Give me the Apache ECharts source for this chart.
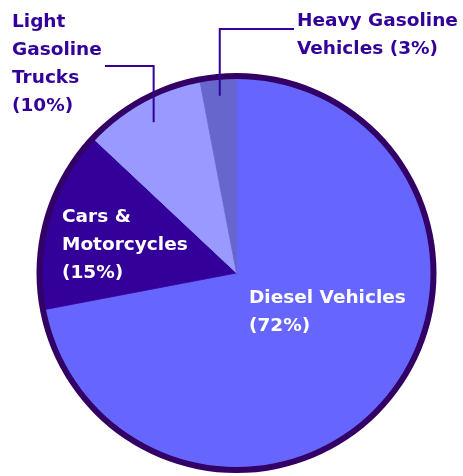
<!DOCTYPE html>
<html><head><meta charset="utf-8">
<script src="https://cdn.jsdelivr.net/npm/echarts@6/dist/echarts.min.js"></script>
<style>html,body{margin:0;padding:0;background:#fff}#c{width:463px;height:476px}</style>
</head><body><div id="c"></div>
<script>
// Data
const categories = ['Diesel Vehicles', 'Cars & Motorcycles', 'Light Gasoline Trucks', 'Heavy Gasoline Vehicles'];
const values = [72, 15, 10, 3];
const labelNames = ['Diesel Vehicles', 'Cars &\nMotorcycles', 'Light\nGasoline\nTrucks', 'Heavy Gasoline\nVehicles'];
const percentSep = ['\n', '\n', '\n', ' '];

// Style / layout
const colors = ['#6666ff', '#330099', '#9999ff', '#6666cc'];
const labelColors = ['#ffffff', '#ffffff', '#330099', '#330099'];
const labelPos = [[249, 284], [62, 203], [12, 8], [297, 7]];
// leader lines: [start radius, corner y, end x] (null = none)
const leader = [null, null, [172, 66, 105], [178, 29, 294]];
const CX = 236.5, CY = 273, R = 197;

const total = values.reduce((a, b) => a + b, 0);
const graphics = [];
let cum = 0;
values.forEach((v, i) => {
  const mid = (cum + v / 2) / total * 2 * Math.PI;
  cum += v;
  if (!leader[i]) return;
  const [r, ly, ex] = leader[i];
  const sx = CX + r * Math.sin(mid), sy = CY - r * Math.cos(mid);
  graphics.push({
    type: 'polyline', z: 100, silent: true,
    shape: {points: [[sx, sy], [sx, ly], [ex, ly]]},
    style: {stroke: '#330099', lineWidth: 2, fill: null}
  });
});

const chart = echarts.init(document.getElementById('c'));
chart.setOption({
  animation: false,
  graphic: graphics,
  series: [
    {
      type: 'pie', center: [CX, CY], radius: [0, R], startAngle: 90, clockwise: true,
      avoidLabelOverlap: false, z: 2,
      label: {
        show: true, position: 'inside',
        fontFamily: 'DejaVu Sans', fontWeight: 'bold', fontSize: 18.5, lineHeight: 28,
        formatter: p => labelNames[p.dataIndex] + percentSep[p.dataIndex] + '(' + p.value + '%)'
      },
      labelLine: {show: false},
      labelLayout: function (params) {
        const i = params.dataIndex;
        return {x: labelPos[i][0], y: labelPos[i][1], align: 'left', verticalAlign: 'top'};
      },
      data: categories.map((c, i) => ({
        name: c, value: values[i],
        itemStyle: {color: colors[i], borderColor: colors[i], borderWidth: 0.8},
        label: {color: labelColors[i]}
      }))
    },
    {
      type: 'pie', silent: true, center: [CX, CY], radius: [R - 3, R + 3], z: 3,
      label: {show: false}, labelLine: {show: false},
      itemStyle: {color: '#330066'}, data: [{value: 1, name: 'ring'}]
    }
  ]
});
</script></body></html>
